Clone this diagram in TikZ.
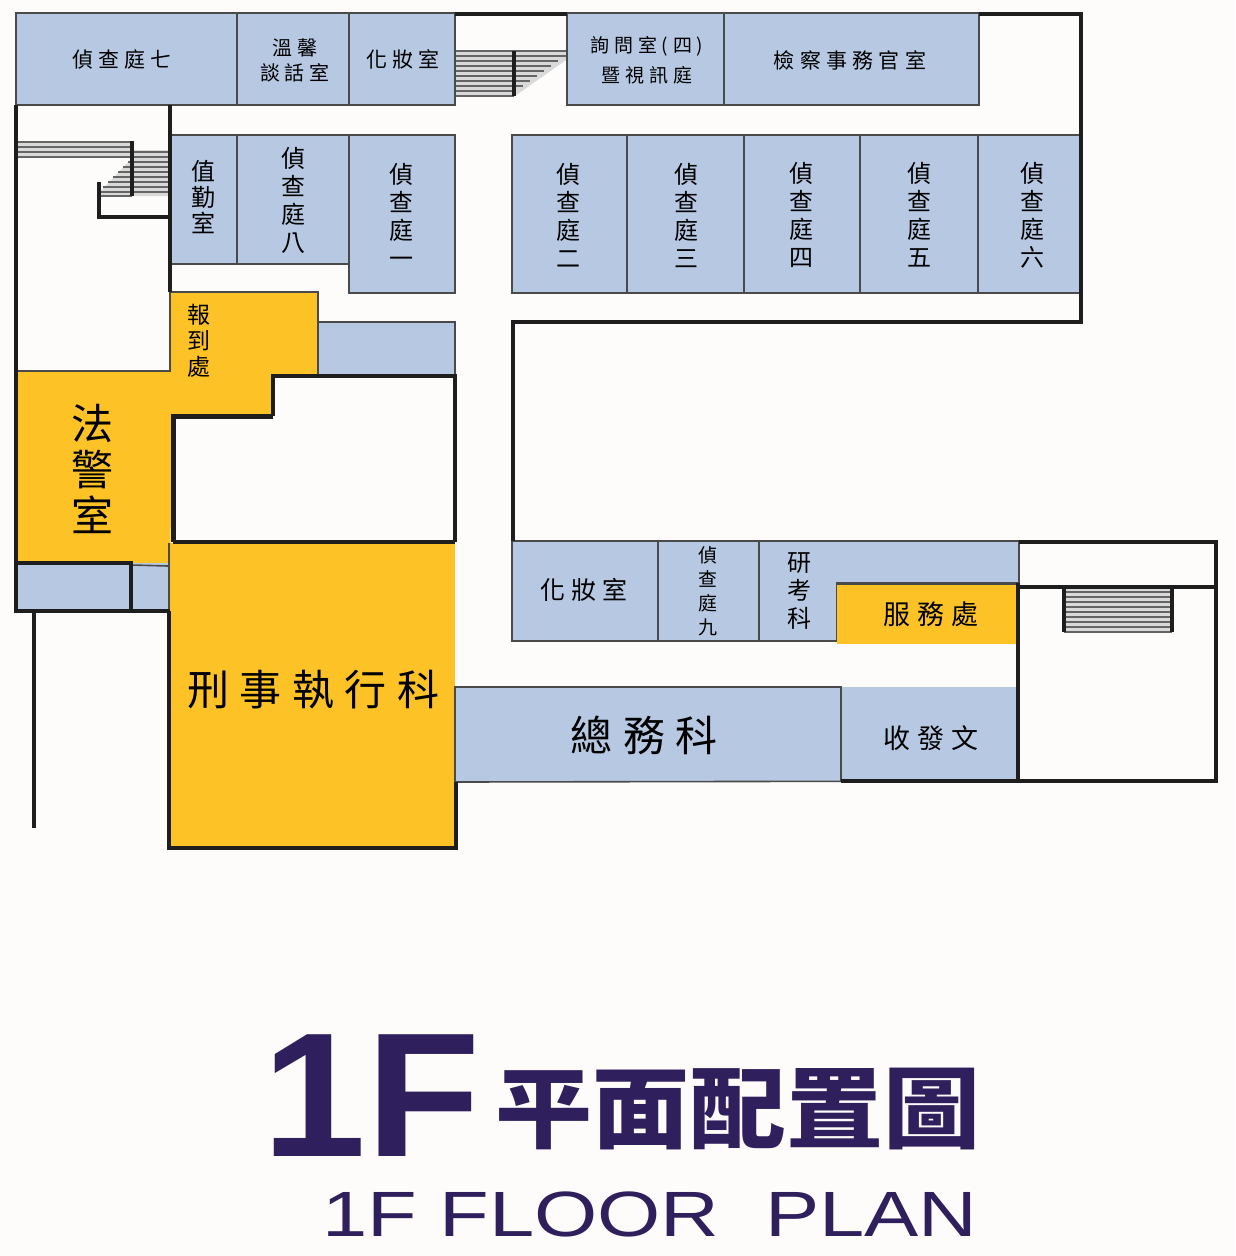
\documentclass[tikz,border=0pt]{standalone}
\usepackage{fontspec}
\setmainfont{Liberation Sans}
\newfontfamily\cjk[LetterSpace=25]{Noto Sans CJK TC}
\newfontfamily\cjktight{Noto Sans CJK TC}
\definecolor{bg}{HTML}{FDFCFA}
\definecolor{roomblue}{HTML}{B7C9E2}
\definecolor{roomyellow}{HTML}{FCC226}
\definecolor{wallc}{HTML}{1E1E1E}
\definecolor{thinc}{HTML}{4A4A4A}
\definecolor{titlec}{HTML}{2F1F5C}
\tikzset{
  x=1pt,y=-1pt,
  room/.style={fill=roomblue,draw=thinc,line width=1.6pt},
  yroom/.style={fill=roomyellow,draw=thinc,line width=1.6pt},
  wall/.style={draw=wallc,line width=3.4pt},
  heavy/.style={draw=wallc,line width=5pt},
  lbl/.style={align=center,inner sep=0pt,text=black},
  tread/.style={draw=thinc!85,line width=1.5pt},
  post/.style={draw=wallc,line width=3.4pt},
  hfont/.style 2 args={font=\fontsize{#1}{#2}\selectfont\cjk},
  vfont/.style 2 args={font=\fontsize{#1}{#2}\selectfont\cjktight},
}
\begin{document}
\begin{tikzpicture}
\useasboundingbox (0,0) rectangle (1235,1256);
\fill[bg] (0,0) rectangle (1235,1256);

% stairs top
\fill[black!15] (455,50) -- (566,50) -- (566,60) -- (515,96) -- (455,96) -- cycle;
\foreach \y in {51,56,...,96} \draw[tread] (455,\y) -- (514,\y);
\foreach \y/\e in {51/566,56/566,61/558,66/551,71/544,76/537,81/530,86/523,91/516} \draw[tread] (514,\y) -- (\e,\y);
\draw[post] (514,51) -- (514,96);

% stairs left
\fill[black!15] (17,141) -- (132,141) -- (132,150) -- (170,150) -- (170,196) -- (100,196) -- (100,192) -- (132,158) -- (17,158) -- cycle;
\foreach \y in {142,147,152,157} \draw[tread] (17,\y) -- (132,\y);
\foreach \y in {152,157,...,196} \draw[tread] (132,\y) -- (170,\y);
\foreach \y/\s in {162/128,167/123,172/118,177/113,182/108,187/103,192/100,196/100} \draw[tread] (\s,\y) -- (132,\y);
\draw[post] (132,141) -- (132,196);
\draw[wall] (99,182) -- (99,217) -- (170,217);

% stairs right
\fill[black!15] (1064,588) rectangle (1172,632);
\foreach \y in {592,597,...,632} \draw[tread] (1064,\y) -- (1172,\y);
\draw[post] (1064,588) -- (1064,632);
\draw[post] (1172,588) -- (1172,632);

% top row
\draw[room] (16,13) rectangle (237,105);
\draw[room] (237,13) rectangle (349,105);
\draw[room] (349,13) rectangle (455,105);
\draw[room] (567,13) rectangle (724,105);
\draw[room] (724,13) rectangle (979,105);
% second row
\draw[room] (171,135) rectangle (237,264);
\draw[room] (237,135) rectangle (349,264);
\draw[room] (349,135) rectangle (455,293);
\draw[room] (512,135) rectangle (627,293);
\draw[room] (627,135) rectangle (744,293);
\draw[room] (744,135) rectangle (860,293);
\draw[room] (860,135) rectangle (978,293);
\draw[room] (978,135) rectangle (1081,293);
% blue strip and lower-left
\draw[room] (318,322) rectangle (455,376);
% yellow reception / police
\fill[roomyellow] (170,292) -- (318,292) -- (318,376) -- (273,376) -- (273,416) -- (173,416) -- (170,566) -- (17,566) -- (17,371) -- (170,371) -- cycle;
\draw[draw=thinc,line width=1.6pt] (17,371) -- (170,371) -- (170,292) -- (318,292) -- (318,376);
\fill[roomblue] (17,563) rectangle (168,609);
\draw[draw=thinc,line width=1.6pt] (131,565) -- (168,566);

% big yellow
\fill[roomyellow] (169,543) rectangle (455,847);
\draw[draw=thinc,line width=1.6pt] (169,543) -- (169,610);
% right lower
\draw[room] (512,541) rectangle (658,641);
\draw[room] (658,541) rectangle (759,641);
\draw[room] (759,641) -- (759,541) -- (1019,541) -- (1019,583) -- (837,583) -- (837,641) -- cycle;
\fill[roomyellow] (837,584) rectangle (1017,644);
\draw[draw=thinc,line width=1.6pt] (837,584) -- (1017,584);
\fill[roomblue] (455,687) rectangle (1017,781);
\draw[draw=thinc,line width=1.6pt] (1017,781) -- (455,782) -- (455,687) -- (841,687) -- (841,781);

% walls
\draw[wall] (455,14) -- (567,14);
\draw[wall] (979,14) -- (1081,14) -- (1081,322) -- (513,322) -- (513,541);
\draw[wall] (16,105) -- (16,611) -- (170,611);
\draw[wall] (170,105) -- (170,292);
\draw[wall] (34,611) -- (34,828);
\draw[wall] (273,416) -- (273,376) -- (455,376) -- (455,542);
\draw[heavy] (173,542) -- (173,416) -- (273,416);
\draw[wall] (173,542) -- (455,542);
\draw[wall] (16,563) -- (131,563) -- (131,611);
\draw[wall] (169,611) -- (169,848) -- (456,848) -- (456,782);
\draw[wall] (1019,542) -- (1216,542) -- (1216,781) -- (841,781);
\draw[wall] (1018,587) -- (1216,587);
\draw[wall] (1018,583) -- (1018,781);

% labels
\node[lbl,hfont={21}{26}] (n07) at (122,59) {偵查庭七};
\node[lbl,hfont={20}{25}] (nwx) at (295,60) {溫馨\\談話室};
\node[lbl,hfont={21}{26}] (nhz) at (403,59) {化妝室};
\node[lbl,hfont={19}{30}] (nxw) at (647,60) {詢問室(四)\\暨視訊庭};
\node[lbl,hfont={21}{26}] (njc) at (850,60) {檢察事務官室};
\node[lbl,vfont={24}{26}] (nzq) at (203,197) {值\\勤\\室};
\node[lbl,vfont={24}{28}] (n08) at (293,200) {偵\\查\\庭\\八};
\node[lbl,vfont={24}{28}] (n01) at (401,215) {偵\\查\\庭\\一};
\node[lbl,vfont={24}{28}] (n02) at (568,215) {偵\\查\\庭\\二};
\node[lbl,vfont={24}{28}] (n03) at (686,215) {偵\\查\\庭\\三};
\node[lbl,vfont={24}{28}] (n04) at (801,215) {偵\\查\\庭\\四};
\node[lbl,vfont={24}{28}] (n05) at (919,215) {偵\\查\\庭\\五};
\node[lbl,vfont={24}{28}] (n06) at (1032,215) {偵\\查\\庭\\六};
\node[lbl,vfont={23}{26}] (nbd) at (199,341) {報\\到\\處};
\node[lbl,vfont={42}{46}] (nfj) at (92,469) {法\\警\\室};
\node[lbl,hfont={42}{44}] (nxs) at (313,690) {刑事執行科};
\node[lbl,hfont={25}{28}] (nhz2) at (584,590) {化妝室};
\node[lbl,vfont={19}{24}] (n09) at (708,591) {偵\\查\\庭\\九};
\node[lbl,vfont={24}{28}] (nyk) at (799,591) {研\\考\\科};
\node[lbl,hfont={27}{30}] (nfw) at (931,614) {服務處};
\node[lbl,hfont={42}{46}] (nzw) at (644,735) {總務科};
\node[lbl,hfont={27}{30}] (nsf) at (931,738) {收發文};

% title
\node[lbl,text=titlec,anchor=base west,xscale=1.055,font=\fontsize{177}{180}\selectfont\bfseries] (t1) at (262,1156) {1F};
\node[lbl,text=titlec,anchor=base west,xscale=1.09,font=\fontsize{89}{95}\selectfont\cjktight\bfseries] (t2) at (495,1141) {平面配置圖};
\node[lbl,text=titlec,anchor=base west,xscale=1.27,font=\fontsize{64}{70}\selectfont] (t3) at (322,1236) {1F FLOOR\hspace{18pt} PLAN};
\end{tikzpicture}
\end{document}
